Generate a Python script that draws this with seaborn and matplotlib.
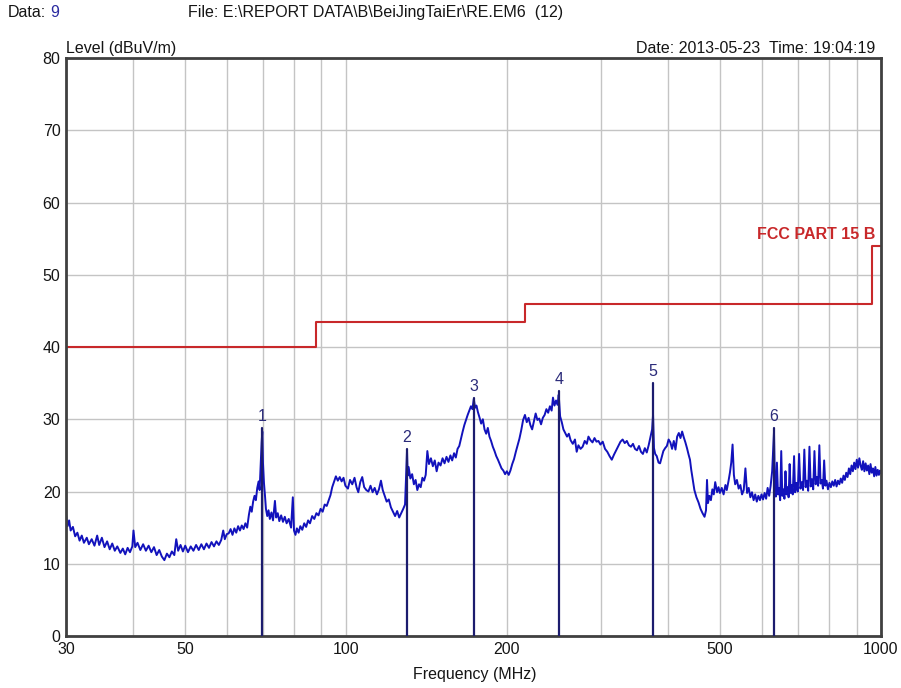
import numpy as np
import pandas as pd
import matplotlib
matplotlib.use("Agg")
import matplotlib.pyplot as plt
import seaborn as sns

# trace, (MHz, dBuV/m), split in frequency bands
trace_30_60 = [(30.0,16.8),(30.2,15.2),(30.4,16.0),(30.6,14.6),(30.9,15.1),(31.2,13.8),(31.5,14.3),(31.8,13.2),
    (32.1,13.9),(32.4,12.9),(32.8,13.6),(33.1,12.7),(33.5,13.4),(33.9,12.5),(34.3,13.9),(34.6,12.6),(35.0,13.6),
    (35.4,12.3),(35.8,13.1),(36.2,12.0),(36.6,12.8),(37.0,11.8),(37.4,12.4),(37.9,11.5),(38.3,12.1),(38.7,11.3),
    (39.1,12.2),(39.5,11.6),(39.9,12.4),(40.1,14.6),(40.4,12.3),(40.8,12.9),(41.3,11.9),(41.8,12.7),(42.3,11.8),
    (42.8,12.5),(43.3,11.6),(43.8,12.3),(44.3,11.2),(44.8,11.9),(45.3,11.0),(45.8,10.5),(46.3,11.4),(46.8,10.9),
    (47.3,11.7),(47.8,11.2),(48.2,13.4),(48.6,11.8),(49.1,12.6),(49.6,11.7),(50.1,12.5),(50.7,11.6),(51.3,12.4),
    (51.9,11.8),(52.5,12.6),(53.1,11.9),(53.7,12.7),(54.3,12.0),(54.9,12.8),(55.5,12.2),(56.1,13.0),(56.7,12.4),
    (57.3,13.1),(57.9,12.6),(58.5,13.3),(59.0,14.6),(59.4,13.4),(59.9,14.1)]
trace_60_100 = [(60.4,14.2),(60.9,14.8),(61.4,14.0),(61.9,14.9),(62.4,14.3),(62.9,15.2),(63.4,14.6),(63.9,15.3),
    (64.4,14.8),(64.9,15.6),(65.4,15.0),(65.9,16.8),(66.3,17.9),(66.7,17.2),(67.1,18.6),(67.5,19.4),(67.9,18.8),
    (68.3,20.5),(68.7,21.4),(69.0,20.2),(69.3,23.5),(69.6,26.8),(69.8,28.3),(70.0,24.0),(70.3,21.2),(70.6,19.5),
    (70.9,17.6),(71.3,16.6),(71.7,17.4),(72.1,16.2),(72.6,17.1),(73.1,16.0),(73.7,18.7),(74.1,16.4),(74.6,17.0),
    (75.1,15.9),(75.7,16.7),(76.3,15.8),(76.9,16.5),(77.5,15.6),(78.2,16.2),(79.0,15.0),(79.6,19.2),(80.0,14.6),
    (80.5,14.0),(81.0,14.9),(81.6,14.3),(82.2,15.2),(82.9,14.7),(83.6,15.6),(84.3,15.1),(85.0,16.0),(85.7,15.6),
    (86.5,16.6),(87.3,16.2),(88.1,17.0),(88.9,16.7),(89.7,17.6),(90.5,17.2),(91.3,18.2),(92.1,18.0),(92.9,18.8),
    (93.6,19.5),(94.3,20.6),(95.0,21.3),(95.8,22.1),(96.6,21.5),(97.4,22.0),(98.2,21.4),(99.0,21.9),(99.8,20.8)]
trace_100_175 = [(100.9,20.4),(101.8,21.6),(102.8,21.0),(103.8,21.9),(104.7,20.6),(105.5,19.9),(106.4,21.3),
    (107.3,22.0),(108.2,20.6),(109.2,20.2),(110.2,20.0),(111.2,20.8),(112.2,19.9),(113.2,20.5),(114.3,19.6),
    (115.3,20.3),(116.3,21.5),(117.2,20.2),(118.2,19.4),(119.2,18.6),(120.3,18.9),(121.4,17.8),(122.5,17.2),
    (123.6,16.6),(124.7,17.3),(125.8,16.4),(126.9,17.0),(128.0,17.6),(129.0,18.2),(129.7,23.0),(130.1,25.6),
    (130.5,22.2),(131.0,23.4),(132.0,21.8),(133.0,22.4),(134.0,21.0),(135.0,21.6),(136.0,20.2),(137.0,21.0),
    (138.0,20.6),(139.0,21.9),(140.0,21.5),(141.0,22.3),(142.0,25.6),(143.0,23.8),(144.2,24.6),(145.4,23.5),
    (146.6,24.3),(147.8,22.8),(149.0,24.0),(150.3,23.6),(151.6,24.6),(152.9,23.9),(154.2,24.8),(155.5,24.1),
    (156.8,25.0),(158.0,24.3),(159.3,25.3),(160.5,24.7),(161.7,25.9),(162.9,26.3),(164.1,27.3),(165.3,28.3),
    (166.5,29.2),(167.7,29.9),(168.9,30.6),(170.1,31.2),(171.3,31.8),(172.4,31.4),(173.4,32.8),(174.4,31.6),
    (175.4,31.9)]
trace_175_260 = [(176.5,31.0),(177.8,30.2),(179.0,29.4),(180.3,30.0),(181.6,28.6),(182.9,28.0),(184.2,28.8),
    (185.5,27.6),(186.8,27.0),(188.2,26.2),(189.6,25.6),(191.0,24.9),(192.4,24.4),(193.9,23.8),(195.4,23.2),
    (196.9,22.9),(198.4,22.4),(199.9,22.8),(201.5,22.3),(203.0,22.9),(204.6,23.8),(206.2,24.5),(207.8,25.5),
    (209.4,26.4),(211.0,27.3),(212.7,28.5),(214.4,29.9),(216.1,30.6),(217.8,29.6),(219.5,30.2),(221.2,29.2),
    (222.9,28.6),(224.6,29.7),(226.3,30.8),(228.0,29.9),(229.8,30.1),(231.6,29.3),(233.4,30.2),(235.2,30.6),
    (237.0,31.4),(238.8,30.9),(240.6,31.8),(242.4,31.2),(243.8,33.0),(245.4,31.9),(247.0,32.6),(248.6,32.0),
    (249.9,33.4),(251.4,30.4),(253.2,29.6),(255.0,28.6),(257.0,28.1),(259.0,27.6)]
trace_260_440 = [(261,28.0),(263,27.1),(265.5,26.6),(268,27.2),(270,25.5),(272,26.4),(274.5,25.9),(277,26.2),
    (279.5,27.0),(282,26.6),(284,27.6),(286.5,27.1),(289,26.8),(291.5,27.4),(294,26.9),(296.5,27.0),(299,26.5),
    (302,26.9),(305,25.9),(308,25.5),(311,24.9),(314,24.4),(317,25.1),(320,25.7),(323,26.3),(326,26.9),
    (329,27.2),(332,26.7),(335,27.0),(338,26.4),(341,26.2),(344,26.6),(347,25.9),(350,25.7),(353,26.3),
    (356,25.5),(359,25.2),(362,26.0),(365,25.4),(368,26.4),(371,27.6),(373.5,28.6),(375,30.6),(376.5,26.0),
    (378.5,25.2),(381,24.9),(384,24.0),(386.5,23.9),(389.5,24.8),(392,25.6),(395,26.0),(398,26.3),(401,27.2),
    (404,26.8),(407,25.9),(410,27.0),(413,25.8),(416,27.6),(419,28.1),(422,27.4),(425,28.3),(428,27.5),
    (431,26.8),(434,26.0),(437,25.1),(439.6,24.4)]
trace_440_1000 = [(442,23.0),(445,21.6),(448,20.2),(452,19.2),(456,18.5),(460,17.6),(464,17.0),(468,16.5),
    (471,17.4),(473,21.6),(475,18.4),(478,19.4),(481,18.8),(484,20.3),(487,19.6),(490,21.3),(494,19.9),
    (497,20.6),(500,19.8),(504,20.5),(508,19.6),(512,20.9),(515,20.2),(519,21.5),(522,22.6),(525,24.0),
    (528,26.5),(531,22.3),(534,21.0),(538,21.6),(542,20.4),(546,20.9),(550,19.6),(554,20.2),(558,23.2),
    (562,19.8),(566,20.5),(570,19.2),(574,19.9),(578,18.8),(582,19.6),(586,18.6),(590,19.4),(594,18.8),
    (598,19.6),(602,18.9),(606,19.8),(610,19.0),(614,20.5),(618,19.4),(622,20.8),(626,22.8),(629,26.0),
    (631,28.2),(633,22.5),(636,19.3),(639,24.0),(642,19.6),(645,20.5),(648,18.8),(651,25.6),(654,19.4),
    (657,20.3),(660,19.0),(663,22.8),(666,19.6),(669,20.6),(672,19.2),(675,23.8),(678,19.8),(681,20.9),
    (684,19.6),(688,24.9),(691,19.9),(695,21.2),(699,20.0),(703,25.2),(707,20.4),(711,21.3),(715,20.2),
    (719,25.8),(723,20.6),(727,21.5),(731,20.1),(735,26.2),(739,20.7),(743,21.7),(747,20.3),(751,25.6),
    (755,21.0),(759,22.0),(763,20.8),(767,26.4),(771,21.1),(775,21.6),(779,20.4),(783,24.3),(787,20.8),
    (791,21.5),(796,20.3),(801,21.2),(806,20.6),(811,21.4),(816,20.8),(821,21.6),(826,20.7),(831,21.5),
    (836,21.0),(841,21.8),(846,21.2),(851,22.2),(856,21.6),(861,22.6),(866,22.0),(871,23.2),(876,22.4),
    (881,23.6),(886,22.8),(891,24.0),(896,23.1),(901,24.4),(906,23.3),(911,24.6),(916,23.6),(921,23.0),
    (926,24.2),(931,22.8),(936,23.9),(941,22.9),(946,23.6),(951,22.4),(956,23.8),(961,22.6),(966,23.2),
    (971,22.1),(976,23.4),(981,22.2),(986,23.0),(991,22.3),(996,22.9),(1000,22.5)]

limit_freq = [30, 88, 216, 960, 1000]
limit_level = [40, 43.5, 46, 54, 54]

marker_freq = [69.7, 130.1, 173.6, 250.0, 375.0, 631.0]
marker_level = [28.8, 25.9, 32.9, 33.9, 35.0, 28.8]
marker_names = ["1", "2", "3", "4", "5", "6"]

xtick_vals = [30, 50, 100, 200, 500, 1000]
xgrid_minor = [40, 60, 70, 80, 90, 300, 400, 600, 700, 800, 900]
ytick_vals = [0, 10, 20, 30, 40, 50, 60, 70, 80]

trace = pd.DataFrame(trace_30_60 + trace_60_100 + trace_100_175 + trace_175_260 + trace_260_440 + trace_440_1000,
                     columns=["freq", "level"])
limit = pd.DataFrame({"freq": limit_freq, "level": limit_level})

sns.set_style("white")
plt.rcParams['font.family'] = ['Liberation Sans', 'DejaVu Sans']
txt = "#151515"

fig = plt.figure(figsize=(9.01, 6.88), dpi=100)
ax = fig.add_axes([0.0733, 0.0756, 0.9045, 0.840])

# marker lines
for f, lv, name in zip(marker_freq, marker_level, marker_names):
    ax.plot([f, f], [0, lv], color="#1c1c6e", lw=1.6, zorder=3)
    ax.text(f, lv + 0.6, name, color="#2b2b7a", fontsize=11.5, ha="center", va="bottom", zorder=4)

sns.lineplot(data=trace, x="freq", y="level", ax=ax, color="#1212bc", lw=1.4,
             estimator=None, sort=False, zorder=2)
sns.lineplot(data=limit, x="freq", y="level", ax=ax, color="#c8282a", lw=1.5,
             estimator=None, drawstyle="steps-post", zorder=2)

ax.text(0.9926, 55.6, "FCC PART 15 B", color="#c8282a", fontsize=11.5, fontweight="bold",
        ha="right", va="center", transform=ax.get_yaxis_transform())

ax.set_xscale("log")
ax.set_xlim(30, 1000)
ax.set_ylim(0, 80)
ax.set_xticks(xtick_vals)
ax.set_xticklabels([str(v) for v in xtick_vals], fontsize=11.5, color=txt)
ax.set_xticks(xgrid_minor, minor=True)
ax.xaxis.set_minor_formatter(matplotlib.ticker.NullFormatter())
ax.set_yticks(ytick_vals)
ax.set_yticklabels([str(v) for v in ytick_vals], fontsize=11.5, color=txt)
ax.tick_params(which="both", length=0, pad=4)
ax.grid(True, which="both", color="#c4c4c4", lw=1.0)
ax.set_axisbelow(True)
for sp in ax.spines.values():
    sp.set_color("#404040")
    sp.set_linewidth(2)
ax.set_xlabel("")
ax.set_ylabel("")

fig.text(0.527, 0.019, "Frequency (MHz)", ha="center", va="center", fontsize=11.5, color=txt)
fig.text(0.0733, 0.918, "Level (dBuV/m)", ha="left", va="bottom", fontsize=11.5, color=txt)
fig.text(0.971, 0.918, "Date: 2013-05-23  Time: 19:04:19", ha="right", va="bottom", fontsize=11.5, color=txt)
fig.text(0.009, 0.982, "Data:", ha="left", va="center", fontsize=11.5, color=txt)
fig.text(0.056, 0.982, "9", ha="left", va="center", fontsize=11.5, color="#2a2aa0")
fig.text(0.2087, 0.982, "File: E:\\REPORT DATA\\B\\BeiJingTaiEr\\RE.EM6  (12)", ha="left", va="center",
         fontsize=11.5, color=txt)

fig.savefig("out.png", dpi=100, facecolor="white")
